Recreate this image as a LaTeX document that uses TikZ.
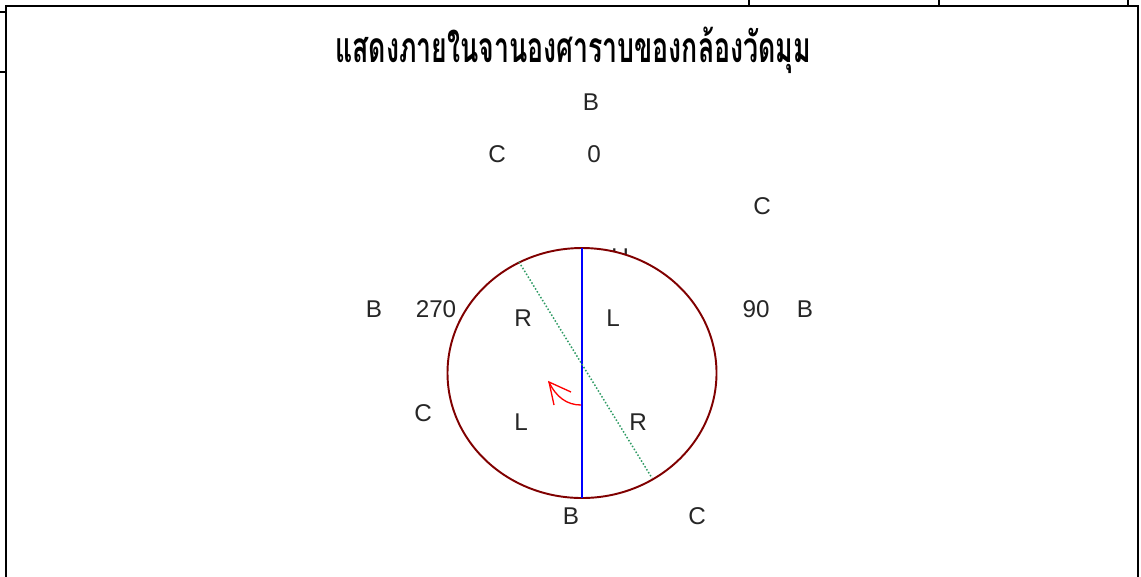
\documentclass[tikz,border=0pt]{standalone}
\usepackage{fontspec}
\setmainfont{Liberation Sans}
\newfontfamily\thaifont[Script=Thai]{Loma}
\usetikzlibrary{arrows.meta,shapes.geometric}

\definecolor{rimred}{RGB}{128,0,0}
\definecolor{sightgreen}{RGB}{46,155,100}

\begin{document}
\begin{tikzpicture}[
  x=0.02cm, y=-0.02cm,
  lbl/.style={font=\fontsize{13.8}{16}\selectfont, text=black!85, inner sep=0pt},
  frm/.style={line width=1.2pt, draw=black},
  rim/.style={line width=1.1pt, draw=rimred, fill=white},
  axis/.style={line width=1.1pt, draw=blue},
  sight/.style={line width=0.85pt, draw=sightgreen, dash pattern=on 0.85pt off 1.1pt},
  turn/.style={line width=0.75pt, draw=red, line join=miter},
]
\useasboundingbox (0,0) rectangle (1141,576);

% frame and the table lines round it
\draw[frm] (6,590) -- (6,6) -- (1138,6) -- (1138,590);
\draw[frm] (0,12) -- (6,12);
\draw[frm] (0,72) -- (6,72);
\foreach \xx in {749,939,1128}
  \draw[frm] (\xx,0) -- (\xx,6);

% title
\node[font=\thaifont\bfseries\fontsize{22}{26}\selectfont] (title) at (573,50)
  {\scalebox{0.69}[1.1]{แสดงภายในจานองศาราบของกล้องวัดมุม}};

% label hidden behind the plate
\node[lbl] (uhid) at (620,257) {U};

% plate
\node[rim, ellipse, minimum width=269*0.02cm, minimum height=250*0.02cm, inner sep=0pt] (plate) at (582,373) {};
\coordinate (vtop) at (582,248);
\coordinate (vbot) at (582,498);
\coordinate (stop) at (519,262);
\coordinate (sbot) at (652,478);
\draw[axis] (vtop) -- (vbot);
\draw[sight] (stop) -- (sbot);

% turning direction
\coordinate (tstart) at (581,405);
\coordinate (tend) at (549,382);
\coordinate (barba) at (571,392);
\coordinate (barbb) at (554,405);
\draw[turn] (tstart) .. controls (567,405) and (556,397) .. (tend);
\draw[turn] (barba) -- (tend) -- (barbb);

% outer labels
\node[lbl] (btop) at (591,102) {B};
\node[lbl] (cnw) at (497,154) {C};
\node[lbl] (zero) at (594,154) {0};
\node[lbl] (cne) at (762,206) {C};
\node[lbl] (bwest) at (374,309) {B};
\node[lbl] (d270) at (436,309) {270};
\node[lbl] (d90) at (756,309) {90};
\node[lbl] (beast) at (805,309) {B};
\node[lbl] (csw) at (423,413) {C};
\node[lbl] (bbot) at (571,516) {B};
\node[lbl] (cse) at (697,516) {C};

% inner labels
\node[lbl] (rnw) at (523,318) {R};
\node[lbl] (lne) at (613,318) {L};
\node[lbl] (lsw) at (521,422) {L};
\node[lbl] (rse) at (638,422) {R};
\end{tikzpicture}
\end{document}
